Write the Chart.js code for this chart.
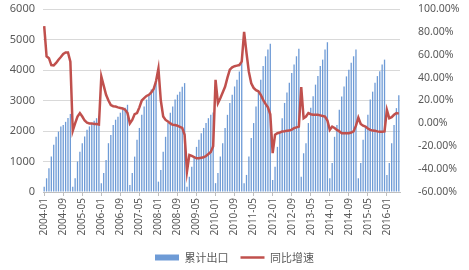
<!DOCTYPE html>
<html>
<head>
<meta charset="utf-8">
<script src="https://cdn.jsdelivr.net/npm/chart.js@4/dist/chart.umd.min.js"></script>
<style>
  html, body { margin: 0; padding: 0; background: #fff; }
  #wrap { width: 469px; height: 270px; }
</style>
</head>
<body>
<div id="wrap"><canvas id="myChart" width="469" height="270"></canvas></div>
<script>
// months 2004-01 .. 2016-06
let firstYear = 2004;
let lastYear = 2016;
let lastMonth = 6;
let months = [];
for (let y = firstYear; y <= lastYear; y++) {
    for (let m = 1; m <= 12; m++) {
        if (y === lastYear && m > lastMonth) break;
        months.push(y + '-' + (m < 10 ? '0' + m : m));
    }
}

// 累计出口 (cumulative, left axis)
let exportCum = [
    175, 450, 780, 1160, 1550, 1810, 1980, 2150, 2200, 2300, 2430, 2560,   // 2004
    175, 450, 1000, 1320, 1600, 1820, 2040, 2150, 2260, 2340, 2420, 2480,  // 2005
    290, 620, 1050, 1600, 1870, 2200, 2370, 2470, 2600, 2700, 2760, 2860,  // 2006
    230, 620, 1160, 1710, 2100, 2530, 2800, 3030, 3190, 3360, 3450, 3580,  // 2007
    340, 720, 1320, 1810, 2260, 2600, 2800, 3030, 3190, 3290, 3450, 3570,  // 2008
    170, 500, 830, 1160, 1480, 1710, 1930, 2100, 2260, 2420, 2530, 2610,   // 2009
    290, 620, 1160, 1600, 2100, 2530, 2920, 3190, 3460, 3680, 3950, 4240,  // 2010
    290, 560, 1160, 1770, 2260, 2800, 3260, 3680, 4130, 4450, 4670, 4860,  // 2011
    390, 830, 1480, 1930, 2420, 2920, 3260, 3580, 3900, 4180, 4450, 4700,  // 2012
    500, 1270, 1600, 2260, 2760, 3140, 3520, 3800, 4130, 4340, 4670, 4910, // 2013
    450, 950, 1810, 2200, 2700, 3130, 3460, 3790, 4010, 4240, 4450, 4670,  // 2014
    450, 950, 1710, 2150, 2530, 3030, 3290, 3580, 3800, 3960, 4180, 4340,  // 2015
    560, 950, 1600, 2200, 2750, 3170                                       // 2016
];

// 同比增速 (%, right axis)
let yoyGrowth = [
    85, 58.6, 57, 51, 50.7, 52.8, 55.7, 58, 60.7, 62, 62, 54,              // 2004
    -6.5, 0, 6, 9, 6, 2.5, 0.7, 0, 0, -0.5, -0.5, -1,                       // 2005
    41, 33, 25, 20, 16, 15, 14.7, 14, 13.5, 13, 12, 9,                      // 2006
    0, 3, 8, 9, 14, 20, 22, 24, 25, 27, 30, 37,                             // 2007
    48, 20, 6, 3, 1.6, 0, -1.3, -1.5, -2, -3, -4, -10,                      // 2008
    -42, -27.6, -28.5, -29.5, -30.5, -30.5, -30, -29.7, -28.5, -26.8, -25, -20, // 2009
    38, 17.7, 22, 27, 32, 40, 47, 49, 50, 50.5, 51, 54,                     // 2010
    80, 61.6, 45, 35, 31, 29, 28, 25, 20.6, 17, 14, 8,                      // 2011
    -26, -10, -8.6, -8, -7, -6.8, -6.5, -6.3, -5.5, -4.2, -3.5, -2.8,       // 2012
    31.7, 4.5, 6, 9, 8, 7.5, 7.5, 7.5, 7, 6.5, 6, 2.5,                      // 2013
    -5.7, -2.8, -4, -5.7, -7, -8.6, -8.6, -8.6, -8.6, -8, -7, -2,           // 2014
    5, -0.5, -2, -2.8, -4.5, -5.7, -6.3, -6.5, -7, -7.3, -7.3, -7,          // 2015
    11.8, 4.5, 5.4, 7.5, 9, 8.5                                             // 2016
];

let leftTicks = [0, 1000, 2000, 3000, 4000, 5000, 6000];
let rightTicks = [-60, -40, -20, 0, 20, 40, 60, 80, 100];
let labelEvery = 8;

let tickFont = { family: "'Noto Sans', 'DejaVu Sans', sans-serif", size: 10 };
let tickColor = '#595959';

// keep the plot area where the original has it
function noEdgePad(s) {
    s.paddingTop = 0;
    s.paddingBottom = 0;
}

let ctx = document.getElementById('myChart').getContext('2d');
let chart = new Chart(ctx, {
    type: 'bar',
    data: {
        labels: months,
        datasets: [{
            type: 'bar',
            label: '累计出口',
            data: exportCum,
            yAxisID: 'y',
            backgroundColor: '#6e9bd6',
            borderWidth: 0,
            barPercentage: 0.55,
            categoryPercentage: 1,
            order: 1,
            pointStyle: 'rect'
        }, {
            type: 'line',
            label: '同比增速',
            data: yoyGrowth,
            yAxisID: 'y1',
            borderColor: '#c0504d',
            backgroundColor: '#c0504d',
            borderWidth: 2.5,
            pointRadius: 0,
            tension: 0,
            order: 0,
            pointStyle: 'line'
        }]
    },
    options: {
        responsive: false,
        animation: false,
        layout: { padding: { top: 9, left: 0, right: 0, bottom: -3 } },
        plugins: {
            tooltip: { enabled: false },
            legend: {
                position: 'bottom',
                labels: {
                    usePointStyle: true,
                    pointStyleWidth: 24,
                    boxHeight: 6,
                    padding: 12,
                    color: tickColor,
                    font: { family: "'Noto Sans CJK SC', sans-serif", size: 11 },
                    sort: (a, b) => a.datasetIndex - b.datasetIndex
                }
            }
        },
        scales: {
            x: {
                offset: true,
                grid: {
                    offset: false,
                    drawOnChartArea: false,
                    tickLength: 4,
                    color: (c) => (c.index % labelEvery === 0 ? '#bfbfbf' : 'rgba(0,0,0,0)')
                },
                border: { color: '#bfbfbf' },
                ticks: {
                    autoSkip: false,
                    minRotation: 90,
                    maxRotation: 90,
                    padding: 2,
                    color: tickColor,
                    font: tickFont,
                    callback: function (v, i) { return i % labelEvery === 0 ? months[i] : ''; }
                },
                afterFit: (s) => { s.height = 48; noEdgePad(s); }
            },
            y: {
                position: 'left',
                min: leftTicks[0],
                max: leftTicks[leftTicks.length - 1],
                afterBuildTicks: (s) => { s.ticks = leftTicks.map(v => ({ value: v })); },
                grid: { color: '#d9d9d9', drawTicks: false },
                border: { display: false },
                ticks: {
                    color: tickColor,
                    font: { family: tickFont.family, size: 11 },
                    padding: 8,
                    callback: (v) => String(v)
                },
                afterFit: (s) => { s.width = 43; noEdgePad(s); }
            },
            y1: {
                position: 'right',
                min: rightTicks[0],
                max: rightTicks[rightTicks.length - 1],
                afterBuildTicks: (s) => { s.ticks = rightTicks.map(v => ({ value: v })); },
                grid: { display: false },
                border: { display: false },
                ticks: {
                    color: tickColor,
                    font: { family: tickFont.family, size: 10.5 },
                    padding: 10,
                    callback: (v) => v.toFixed(2) + '%'
                },
                afterFit: (s) => { s.width = 69; noEdgePad(s); }
            }
        }
    }
});
</script>
</body>
</html>
